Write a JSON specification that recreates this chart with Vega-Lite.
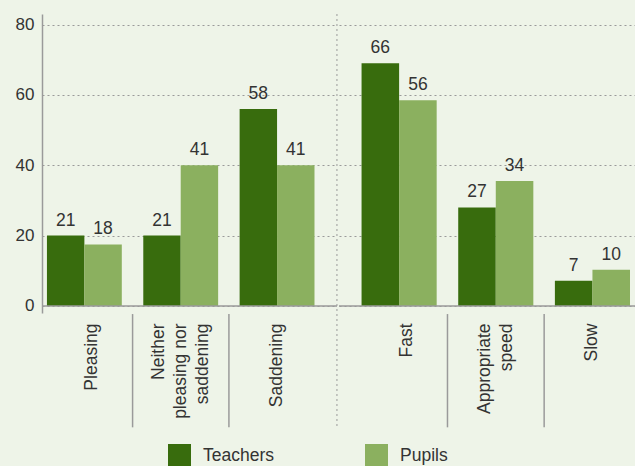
{
  "$schema": "https://vega.github.io/schema/vega-lite/v6.json",
  "background": "#eef4e8",
  "padding": {"left": 15, "top": 13, "right": 0, "bottom": 0},
  "config": {
    "view": {"stroke": null},
    "font": "Liberation Sans",
    "axis": {"labelFont": "Liberation Sans", "labelFontSize": 17, "labelColor": "#333333"},
    "legend": {"labelFont": "Liberation Sans"}
  },
  "data": {"values": [
    {"section": "Feeling", "category": "Pleasing", "series": "Teachers", "value": 20, "label": "21"},
    {"section": "Feeling", "category": "Pleasing", "series": "Pupils", "value": 17.5, "label": "18"},
    {"section": "Feeling", "category": "Neither pleasing nor saddening", "series": "Teachers", "value": 20, "label": "21"},
    {"section": "Feeling", "category": "Neither pleasing nor saddening", "series": "Pupils", "value": 40, "label": "41"},
    {"section": "Feeling", "category": "Saddening", "series": "Teachers", "value": 56, "label": "58"},
    {"section": "Feeling", "category": "Saddening", "series": "Pupils", "value": 40, "label": "41"},
    {"section": "Pace", "category": "Fast", "series": "Teachers", "value": 69, "label": "66"},
    {"section": "Pace", "category": "Fast", "series": "Pupils", "value": 58.5, "label": "56"},
    {"section": "Pace", "category": "Appropriate speed", "series": "Teachers", "value": 28, "label": "27"},
    {"section": "Pace", "category": "Appropriate speed", "series": "Pupils", "value": 35.5, "label": "34"},
    {"section": "Pace", "category": "Slow", "series": "Teachers", "value": 7.2, "label": "7"},
    {"section": "Pace", "category": "Slow", "series": "Pupils", "value": 10.3, "label": "10"}
  ]},
  "spacing": 0,
  "resolve": {"scale": {"x": "independent", "xOffset": "independent", "y": "shared", "color": "shared"}},
  "hconcat": [
    {
      "width": 295,
      "height": 299,
      "transform": [{"filter": "datum.section == 'Feeling'"}],
      "layer": [
        {
          "mark": {"type": "bar"},
          "encoding": {
            "x": {"field": "category", "type": "nominal", "sort": null, "title": null,
              "scale": {"paddingInner": 0.223, "paddingOuter": 0.1425, "align": 0.18},
              "axis": {"domain": false, "ticks": false, "labelAngle": 270, "labelPadding": 10, "labelLineHeight": 22, "labelFontSize": 17.5,
                "labelExpr": "datum.value == 'Neither pleasing nor saddening' ? ['Neither', 'pleasing nor', 'saddening'] : datum.value == 'Appropriate speed' ? ['Appropriate', 'speed'] : datum.value",
                "labelOffset": {"condition": [
                  {"test": "datum.value == 'Pleasing' || datum.value == 'Fast'", "value": 8},
                  {"test": "datum.value == 'Neither pleasing nor saddening'", "value": -22},
                  {"test": "datum.value == 'Appropriate speed'", "value": -11}
                ], "value": 0}}},
            "xOffset": {"field": "series", "type": "nominal", "sort": ["Teachers", "Pupils"], "scale": {"paddingInner": 0, "paddingOuter": 0}},
            "y": {"field": "value", "type": "quantitative", "title": null,
              "scale": {"domain": [-2, 83], "nice": false},
              "axis": {"values": [0, 20, 40, 60, 80], "grid": true, "gridDash": [2, 3], "gridColor": "#9a9a9a", "gridWidth": 1,
                "domain": true, "domainColor": "#9a9a9a", "domainWidth": 1.5, "ticks": false, "labelPadding": 8}},
            "color": {"field": "series", "type": "nominal", "sort": ["Teachers", "Pupils"],
              "scale": {"domain": ["Teachers", "Pupils"], "range": ["#386c0d", "#8bb05f"]},
              "legend": {"orient": "none", "legendX": 126, "legendY": 430, "direction": "horizontal", "title": null,
                "symbolType": "square", "symbolSize": 529, "symbolStrokeWidth": 0, "labelFontSize": 17.5, "labelColor": "#333333",
                "labelOffset": 12, "columnPadding": 90, "padding": 0}}
          }
        },
        {
          "mark": {"type": "text", "fontSize": 17.5, "color": "#333333", "dy": -10, "baseline": "alphabetic"},
          "encoding": {
            "x": {"field": "category", "type": "nominal", "sort": null},
            "xOffset": {"field": "series", "type": "nominal", "sort": ["Teachers", "Pupils"]},
            "y": {"field": "value", "type": "quantitative"},
            "text": {"field": "label"}
          }
        },
        {
          "transform": [{"filter": "datum.category == 'Pleasing' && datum.series == 'Teachers'"}],
          "mark": {"type": "rule", "color": "#9a9a9a", "strokeWidth": 1.5},
          "encoding": {"y": {"datum": 0}}
        },
        {
          "transform": [{"filter": "datum.category != 'Pleasing' && datum.series == 'Teachers'"}],
          "mark": {"type": "rule", "color": "#9a9a9a", "strokeWidth": 1.5},
          "encoding": {
            "x": {"field": "category", "type": "nominal", "sort": null, "bandPosition": -0.143},
            "y": {"datum": -2.3},
            "y2": {"datum": -34.5}
          }
        },
        {
          "transform": [{"filter": "datum.category == 'Saddening' && datum.series == 'Teachers'"}],
          "mark": {"type": "rule", "color": "#9a9a9a", "strokeWidth": 1, "strokeDash": [2, 3]},
          "encoding": {
            "x": {"field": "category", "type": "nominal", "sort": null, "bandPosition": 1.3},
            "y": {"datum": 83},
            "y2": {"datum": -34.5}
          }
        }
      ]
    },
    {
      "width": 297,
      "height": 299,
      "transform": [{"filter": "datum.section == 'Pace'"}],
      "layer": [
        {
          "mark": {"type": "bar"},
          "encoding": {
            "x": {"field": "category", "type": "nominal", "sort": null, "title": null,
              "scale": {"paddingInner": 0.223, "paddingOuter": 0.1477, "align": 0.79},
              "axis": {"domain": false, "ticks": false, "labelAngle": 270, "labelPadding": 10, "labelLineHeight": 22, "labelFontSize": 17.5,
                "labelExpr": "datum.value == 'Neither pleasing nor saddening' ? ['Neither', 'pleasing nor', 'saddening'] : datum.value == 'Appropriate speed' ? ['Appropriate', 'speed'] : datum.value",
                "labelOffset": {"condition": [
                  {"test": "datum.value == 'Pleasing' || datum.value == 'Fast'", "value": 8},
                  {"test": "datum.value == 'Neither pleasing nor saddening'", "value": -22},
                  {"test": "datum.value == 'Appropriate speed'", "value": -11}
                ], "value": 0}}},
            "xOffset": {"field": "series", "type": "nominal", "sort": ["Teachers", "Pupils"], "scale": {"paddingInner": 0, "paddingOuter": 0}},
            "y": {"field": "value", "type": "quantitative", "title": null,
              "scale": {"domain": [-2, 83], "nice": false},
              "axis": {"values": [0, 20, 40, 60, 80], "grid": true, "gridDash": [2, 3], "gridColor": "#9a9a9a", "gridWidth": 1,
                "domain": false, "ticks": false, "labels": false, "minExtent": 0}},
            "color": {"field": "series", "type": "nominal", "sort": ["Teachers", "Pupils"],
              "scale": {"domain": ["Teachers", "Pupils"], "range": ["#386c0d", "#8bb05f"]}}
          }
        },
        {
          "mark": {"type": "text", "fontSize": 17.5, "color": "#333333", "dy": -10, "baseline": "alphabetic"},
          "encoding": {
            "x": {"field": "category", "type": "nominal", "sort": null},
            "xOffset": {"field": "series", "type": "nominal", "sort": ["Teachers", "Pupils"]},
            "y": {"field": "value", "type": "quantitative"},
            "text": {"field": "label"}
          }
        },
        {
          "transform": [{"filter": "datum.category == 'Fast' && datum.series == 'Teachers'"}],
          "mark": {"type": "rule", "color": "#9a9a9a", "strokeWidth": 1.5},
          "encoding": {"y": {"datum": 0}}
        },
        {
          "transform": [{"filter": "datum.category != 'Fast' && datum.series == 'Teachers'"}],
          "mark": {"type": "rule", "color": "#9a9a9a", "strokeWidth": 1.5},
          "encoding": {
            "x": {"field": "category", "type": "nominal", "sort": null, "bandPosition": -0.143},
            "y": {"datum": -2.3},
            "y2": {"datum": -34.5}
          }
        }
      ]
    }
  ]
}
